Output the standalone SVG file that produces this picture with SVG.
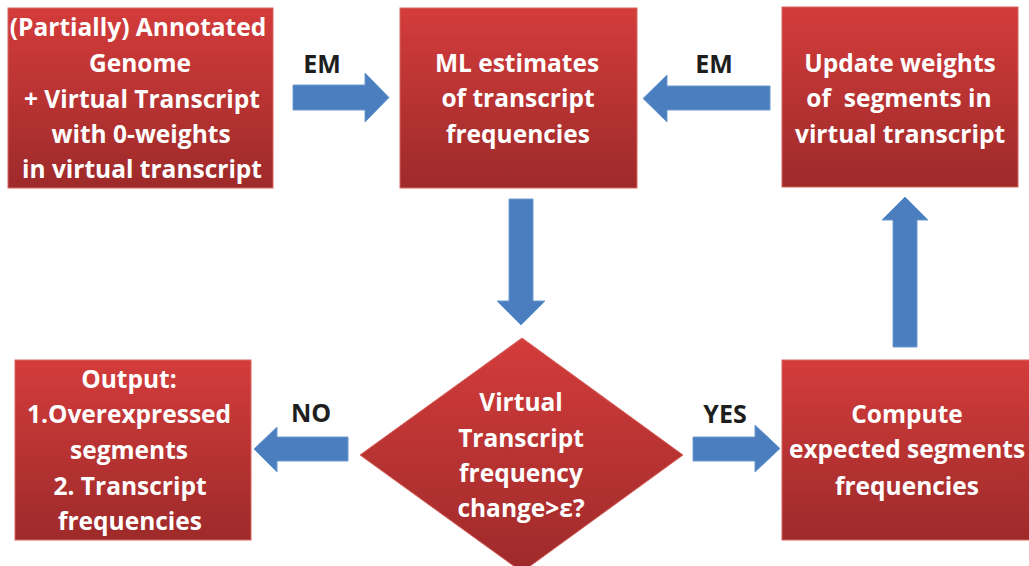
<svg xmlns="http://www.w3.org/2000/svg" width="1029" height="566" viewBox="0 0 1029 566">
<defs>
<linearGradient id="red" x1="0" y1="0" x2="0" y2="1">
<stop offset="0" stop-color="#D33C3B"/>
<stop offset="1" stop-color="#9E2A2A"/>
</linearGradient>
<style>
.box{fill:url(#red);stroke:#D86560;stroke-width:1}
.t{font-family:"Open Sans","Liberation Sans",sans-serif;font-weight:700;font-size:24.5px;fill:#FFFFFF;text-anchor:middle}
.lbl{font-family:"Open Sans","Liberation Sans",sans-serif;font-weight:700;font-size:25px;fill:#1E1E1E;text-anchor:middle}
.arr{fill:#4A7EBE;stroke:#6C9AD0;stroke-width:1}
</style>
</defs>
<rect width="1029" height="566" fill="#FFFFFF"/>
<g id="connectors">
<polygon class="arr" points="293,85 365,85 365,73 389,97.5 365,122 365,110 293,110"/>
<polygon class="arr" points="770,86 667,86 667,75 643,98.5 667,122 667,110 770,110"/>
<polygon class="arr" points="509,199 533,199 533,301 545,301 521,325 497,301 509,301"/>
<polygon class="arr" points="893,347 917,347 917,220 928,220 905,197 882,220 893,220"/>
<polygon class="arr" points="348,437 277,437 277,427 254,449 277,472 277,461 348,461"/>
<polygon class="arr" points="693,437 755,437 755,425 780,448.5 755,472 755,461 693,461"/>
<text class="lbl" x="322" y="73">EM</text>
<text class="lbl" x="714" y="73">EM</text>
<text class="lbl" x="311" y="422">NO</text>
<text class="lbl" x="725" y="423">YES</text>
</g>
<g id="start">
<rect class="box" x="8" y="8" width="265" height="180"/>
<text class="t" x="138" y="36">(Partially) Annotated</text>
<text class="t" x="140" y="72">Genome</text>
<text class="t" x="142" y="108">+ Virtual Transcript</text>
<text class="t" x="141" y="143">with 0-weights</text>
<text class="t" x="142" y="178">in virtual transcript</text>
</g>
<g id="ml">
<rect class="box" x="400" y="8" width="237" height="180"/>
<text class="t" x="517" y="72">ML estimates</text>
<text class="t" x="518" y="107">of transcript</text>
<text class="t" x="518" y="143">frequencies</text>
</g>
<g id="update">
<rect class="box" x="782" y="7" width="236" height="180"/>
<text class="t" x="900" y="72">Update weights</text>
<text class="t" x="899" y="107" xml:space="preserve">of  segments in</text>
<text class="t" x="900" y="143">virtual transcript</text>
</g>
<g id="output">
<rect class="box" x="15" y="360" width="236" height="180"/>
<text class="t" x="129" y="388">Output:</text>
<text class="t" x="129" y="423">1.Overexpressed</text>
<text class="t" x="129" y="459">segments</text>
<text class="t" x="130" y="495">2. Transcript</text>
<text class="t" x="130" y="530">frequencies</text>
</g>
<g id="decision">
<polygon class="box" points="522,338 683,455 522,572 360,455"/>
<text class="t" x="521" y="411">Virtual</text>
<text class="t" x="521" y="447">Transcript</text>
<text class="t" x="521" y="482">frequency</text>
<text class="t" x="521" y="517">change&gt;ε?</text>
</g>
<g id="compute">
<rect class="box" x="782" y="360" width="260" height="180"/>
<text class="t" x="907" y="423">Compute</text>
<text class="t" x="907" y="458">expected segments</text>
<text class="t" x="907" y="495">frequencies</text>
</g>
</svg>
